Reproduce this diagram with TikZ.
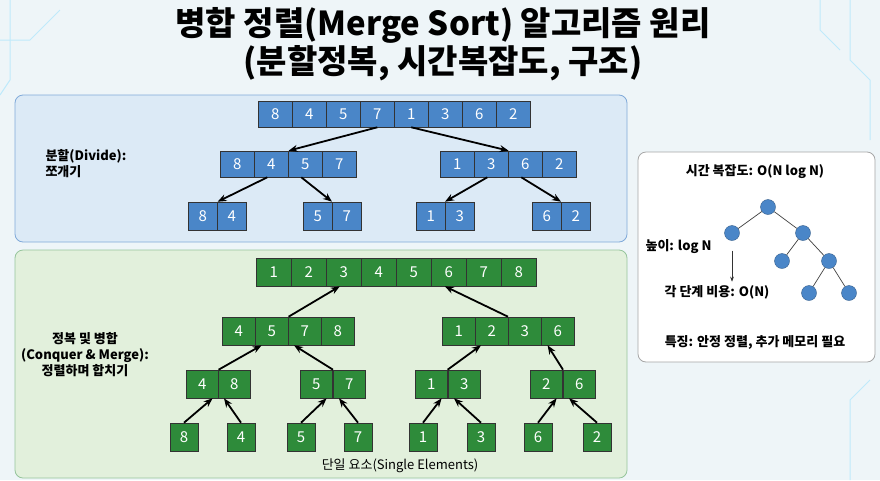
\documentclass[tikz,border=0pt]{standalone}
\usepackage{fontspec}
\setmainfont{Noto Sans CJK KR}
\usetikzlibrary{arrows.meta}
\definecolor{bg}{HTML}{EEF5F8}
\definecolor{bcell}{HTML}{4A86C8}
\definecolor{gcell}{HTML}{2E8B3A}
\definecolor{bpanel}{HTML}{DCEAF6}
\definecolor{gpanel}{HTML}{E2F0DC}
\tikzset{
 cell/.style={draw=black!80,line width=0.6pt,text=white,font=\fontsize{15}{15}\selectfont,inner sep=0pt,anchor=west},
 bc/.style={cell,fill=bcell,minimum width=#1,minimum height=26pt},
 gc/.style={cell,fill=gcell,minimum width=#1,minimum height=28pt},
 arr/.style={-{Stealth[length=9pt,width=7pt]},line width=1.8pt},
 tnode/.style={circle,fill=bcell,draw=bcell!70!black,minimum size=15pt,inner sep=0pt},
 lbl/.style={font=\bfseries\fontsize{13}{16}\selectfont,align=center},
}
\begin{document}
\begin{tikzpicture}[x=1pt,y=-1pt]
\useasboundingbox (0,0) rectangle (880,480);
\fill[bg] (0,0) rectangle (880,480);
% faint circuit decorations
\begin{scope}[draw=cyan!25,line width=1pt]
\draw (0,40) -- (30,40) -- (60,10); \draw (10,0) -- (10,80) -- (0,95);
\draw (850,0) -- (850,60) -- (870,80) -- (870,140); \draw (820,0)--(820,30)--(840,50);
\draw (870,380) -- (850,400) -- (850,480);
\end{scope}
% title
\node[font=\bfseries\fontsize{33}{36}\selectfont] (t1) at (443,25) {병합 정렬(Merge Sort) 알고리즘 원리};
\node[font=\bfseries\fontsize{33}{36}\selectfont] (t2) at (443,63) {(분할정복, 시간복잡도, 구조)};
% panels
\draw[draw=bcell!70,fill=bpanel,rounded corners=8pt,line width=0.8pt] (15,95) rectangle (627,242);
\draw[draw=gcell!50,fill=gpanel,rounded corners=8pt,line width=0.8pt] (15,250) rectangle (627,478);
\draw[draw=gray!70,fill=white,rounded corners=8pt,line width=0.8pt] (638,152) rectangle (875,362);
% blue rows
\foreach \v [count=\i] in {8,4,5,7,1,3,6,2}
  \node[bc=34pt] (a\i) at ({258+(\i-1)*34},114) {\v};
\foreach \v [count=\i] in {8,4,5,7}
  \node[bc=34pt] (bl\i) at ({220+(\i-1)*34},164) {\v};
\foreach \v [count=\i] in {1,3,6,2}
  \node[bc=34pt] (br\i) at ({440+(\i-1)*34},164) {\v};
\foreach \v/\x/\n in {8/188/c1,4/217/c2,5/303/c3,7/332/c4,1/416/c5,3/445/c6,6/532/c7,2/561/c8}
  \node[bc=29pt,minimum height=28pt] (\n) at (\x,216) {\v};
\draw[arr] (a4.south) -- (bl2.north east);
\draw[arr] (a5.south) -- (br2.north east);
\draw[arr] ([xshift=-4pt]bl2.south) -- (c1.north east);
\draw[arr] ([xshift=-4pt]bl3.south) -- (c4.north west);
\draw[arr] ([xshift=-4pt]br2.south) -- (c6.north west);
\draw[arr] ([xshift=-4pt]br3.south) -- (c8.north west);
\node[lbl,align=left,anchor=west] (dl) at (42,164) {분할(Divide):\\쪼개기};
% green rows
\foreach \v [count=\i] in {1,2,3,4,5,6,7,8}
  \node[gc=35pt] (g\i) at ({256+(\i-1)*35},272) {\v};
\foreach \v [count=\i] in {4,5,7,8}
  \node[gc=33pt] (hl\i) at ({222+(\i-1)*33},331) {\v};
\foreach \v [count=\i] in {1,2,3,6}
  \node[gc=33pt] (hr\i) at ({442+(\i-1)*33},331) {\v};
\foreach \v/\x/\n in {4/186/k1,8/218/k2,5/300/k3,7/333/k4,1/415/k5,3/448/k6,2/530/k7,6/563/k8}
  \node[gc=32pt] (\n) at (\x,384) {\v};
\foreach \v/\x/\n in {8/184/l1,4/241/l2,5/301/l3,7/358/l4,1/423/l5,3/481/l6,6/538/l7,2/597/l8}
  \node[gc=28pt,anchor=center] (\n) at (\x,437) {\v};
\draw[arr] (hl2.north east) -- ([xshift=-4pt]g3.south);
\draw[arr] (hr3.north west) -- ([xshift=-4pt]g6.south);
\draw[arr] (k1.north east) -- ([xshift=6pt]hl1.south east);
\draw[arr] (k4.north west) -- ([xshift=6pt]hl3.south west);
\draw[arr] (k5.north east) -- ([xshift=6pt]hr2.south west);
\draw[arr] (k8.north west) -- ([xshift=6pt]hr3.south east);
\foreach \a/\b in {l1/k1,l3/k3,l5/k5,l7/k7}
  \draw[arr] (\a.north) -- ([xshift=-6pt]\b.south east);
\foreach \a/\b in {l2/k2,l4/k4,l6/k6,l8/k8}
  \draw[arr] (\a.north) -- ([xshift=6pt]\b.south west);
\node[lbl] (cl) at (85,355) {정복 및 병합\\(Conquer \& Merge):\\정렬하며 합치기};
\node[font=\fontsize{13}{15}\selectfont] (se) at (400,466) {단일 요소(Single Elements)};
% right panel
\node[lbl] (rt) at (755,172) {시간 복잡도: O(N log N)};
\node[tnode] (n0) at (768,207) {};
\node[tnode] (n1) at (732,233) {};
\node[tnode] (n2) at (803,233) {};
\node[tnode] (n3) at (782,261) {};
\node[tnode] (n4) at (829,261) {};
\node[tnode] (n5) at (809,293) {};
\node[tnode] (n6) at (849,293) {};
\draw[gray!50!black,line width=0.7pt] (n0)--(n1) (n0)--(n2) (n2)--(n3) (n2)--(n4) (n4)--(n5) (n4)--(n6);
\node[lbl,anchor=west] (h) at (642,247) {높이: log N};
\node[lbl] (c) at (717,292) {각 단계 비용: O(N)};
\draw[-{Stealth[length=5pt]},gray!40!black,line width=0.6pt] (n1.south) ++(0,10) coordinate (s0) (s0) -- (c.north -| s0);
\node[lbl] (f) at (755,342) {특징: 안정 정렬, 추가 메모리 필요};
\end{tikzpicture}
\end{document}
